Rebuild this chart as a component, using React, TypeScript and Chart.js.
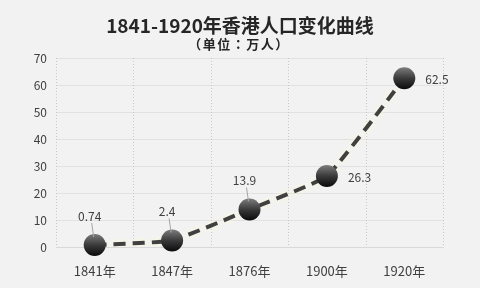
import React, { useEffect, useRef } from "react";
import { Chart, registerables } from "chart.js";

Chart.register(...registerables);

const categories = ["1841年", "1847年", "1876年", "1900年", "1920年"];
const population = [0.74, 2.4, 13.9, 26.3, 62.5];
const labelPlacement = ["top", "top", "top", "right", "right"];
const yTicks = [0, 10, 20, 30, 40, 50, 60, 70];
const titleText = "1841-1920年香港人口变化曲线";
const subtitleText = "（单位：万人）";

const FONT = '"Noto Sans CJK SC", "Noto Sans", sans-serif';
const FONT_TC = '"Noto Sans CJK TC", "Noto Sans CJK SC", sans-serif';

const decorPlugin = {
  id: "decor",
  afterDraw(chart: any) {
    const ctx = chart.ctx;
    ctx.save();
    ctx.fillStyle = "#262626";
    ctx.textAlign = "center";
    ctx.textBaseline = "middle";
    ctx.font = `bold 19px ${FONT}`;
    ctx.fillText(titleText, 240, 26);
    ctx.font = `bold 13px ${FONT_TC}`;
    try {
      ctx.letterSpacing = "1.5px";
    } catch (e) {}
    ctx.fillText(subtitleText, 239, 44);
    ctx.restore();
  },
  afterDatasetsDraw(chart: any) {
    const ctx = chart.ctx;
    const meta = chart.getDatasetMeta(0);
    ctx.save();
    meta.data.forEach((pt: any) => {
      const x = pt.x;
      const y = pt.y;
      const r = 11;
      const g = ctx.createLinearGradient(x, y - r, x, y + r);
      g.addColorStop(0, "#7d7d7d");
      g.addColorStop(0.5, "#3a3a3a");
      g.addColorStop(1, "#0a0a0a");
      ctx.beginPath();
      ctx.arc(x, y, r, 0, Math.PI * 2);
      ctx.fillStyle = g;
      ctx.fill();
    });
    ctx.font = `12px ${FONT}`;
    ctx.fillStyle = "#404040";
    ctx.textBaseline = "middle";
    meta.data.forEach((pt: any, i: number) => {
      const v = String(population[i]);
      if (labelPlacement[i] === "top") {
        ctx.strokeStyle = "#a6a6a6";
        ctx.lineWidth = 1;
        ctx.beginPath();
        ctx.moveTo(pt.x - 3, pt.y - 22);
        ctx.lineTo(pt.x - 1, pt.y - 8);
        ctx.stroke();
        ctx.textAlign = "center";
        ctx.fillText(v, pt.x - 5, pt.y - 29);
      } else {
        ctx.textAlign = "left";
        ctx.fillText(v, pt.x + 21, pt.y + 1);
      }
    });
    ctx.restore();
  },
};

export default function App() {
  const ref = useRef<HTMLCanvasElement>(null);
  useEffect(() => {
    document.body.style.margin = "0";
    document.body.style.background = "#f2f2f2";
    const chart = new Chart(ref.current!, {
      type: "line",
      data: {
        labels: categories,
        datasets: [
          {
            data: population,
            borderColor: "#404040",
            borderWidth: 4,
            borderDash: [12, 7],
            tension: 0.12,
            pointRadius: 0,
            fill: false,
          } as any,
        ],
      },
      options: {
        animation: false,
        responsive: false,
        layout: { padding: { top: 58, right: 37, bottom: 0, left: 0 } },
        plugins: {
          legend: { display: false },
          tooltip: { enabled: false },
          title: { display: false },
        },
        scales: {
          x: {
            offset: true,
            grid: { display: false },
            border: { display: true, color: "#d9d9d9" } as any,
            ticks: {
              color: "#404040",
              font: { family: FONT, size: 13 },
              padding: 8,
            },
            afterFit(scale: any) {
              scale.height = 41;
            },
          },
          y: {
            min: 0,
            max: 70,
            afterBuildTicks(scale: any) {
              scale.ticks = yTicks.map((v) => ({ value: v }));
            },
            grid: { color: "#e2e2e2", drawTicks: false },
            border: { display: false },
            ticks: {
              color: "#404040",
              font: { family: FONT, size: 12 },
              padding: 9,
            },
            afterFit(scale: any) {
              scale.width = 56;
            },
          },
        },
      },
      plugins: [
        decorPlugin,
        {
          id: "bg",
          beforeDraw(c: any) {
            const ctx = c.ctx;
            ctx.save();
            ctx.fillStyle = "#f2f2f2";
            ctx.fillRect(0, 0, c.width, c.height);
            ctx.restore();
          },
        },
        {
          id: "dottedGrid",
          beforeDatasetsDraw(c: any) {
            const ctx = c.ctx;
            const a = c.chartArea;
            const xs = c.scales.x;
            ctx.save();
            ctx.strokeStyle = "#c8c8c8";
            ctx.lineWidth = 1;
            ctx.setLineDash([1, 2]);
            for (let i = 0; i <= categories.length; i++) {
              const px = Math.round(xs.getPixelForValue(i - 0.5)) + 0.5;
              ctx.beginPath();
              ctx.moveTo(px, a.top);
              ctx.lineTo(px, a.bottom);
              ctx.stroke();
            }
            ctx.restore();
          },
          beforeDatasetDraw(c: any) {
            const ctx = c.ctx;
            ctx.save();
            ctx.shadowColor = "rgba(255, 250, 210, 1)";
            ctx.shadowBlur = 5;
          },
          afterDatasetDraw(c: any) {
            c.ctx.restore();
          },
        },
      ],
    } as any);
    return () => chart.destroy();
  }, []);
  return (
    <div style={{ width: 480, height: 288, background: "#f2f2f2" }}>
      <canvas ref={ref} width={480} height={288} />
    </div>
  );
}
